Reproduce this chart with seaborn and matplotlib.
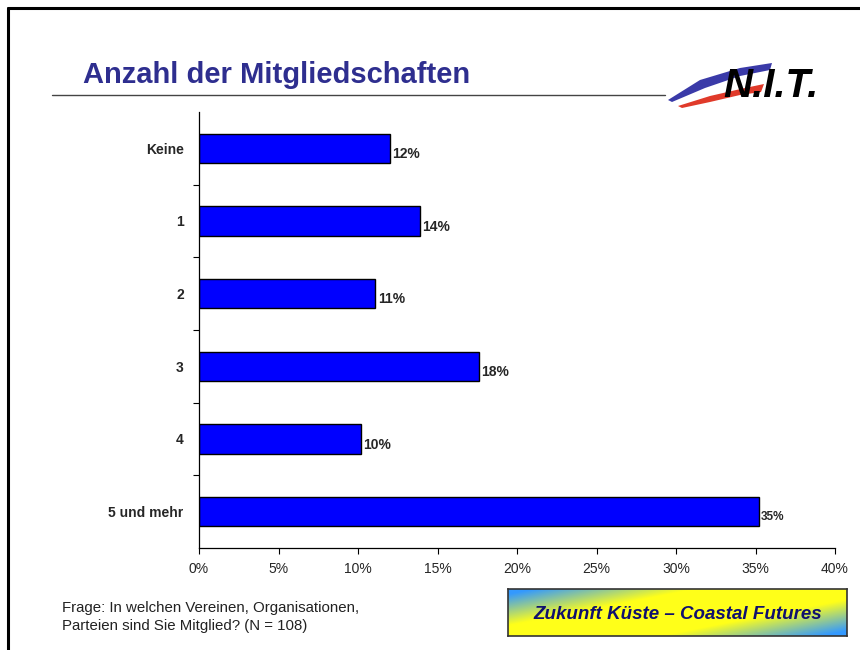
import numpy as np
import pandas as pd
import seaborn as sns
from matplotlib import pyplot as plt
from matplotlib.lines import Line2D
from matplotlib.patches import Polygon

# data (N = 108)
categories = ['Keine', '1', '2', '3', '4', '5 und mehr']
shares = [12.0, 13.9, 11.1, 17.6, 10.2, 35.2]
share_labels = ['12%', '14%', '11%', '18%', '10%', '35%']
x_ticks = [0, 5, 10, 15, 20, 25, 30, 35, 40]
x_tick_labels = [f'{t}%' for t in x_ticks]

TITLE = 'Anzahl der Mitgliedschaften'
NOTE = 'Frage: In welchen Vereinen, Organisationen,\nParteien sind Sie Mitglied? (N = 108)'
BADGE = 'Zukunft Küste – Coastal Futures'

sns.set_style('white')
plt.rcParams['font.family'] = ['Liberation Sans', 'DejaVu Sans']

df = pd.DataFrame({'category': categories, 'share': shares})

W, H = 860, 650
fig = plt.figure(figsize=(W / 100, H / 100), dpi=100)


def fig_box(x0, y0, x1, y1):
    """pixel box (top-left origin) -> figure fraction rect"""
    return [x0 / W, 1 - y1 / H, (x1 - x0) / W, (y1 - y0) / H]


ax = fig.add_axes(fig_box(199, 112, 835, 548))
sns.barplot(data=df, x='share', y='category', orient='h', color='#0000FF',
            saturation=1, edgecolor='black', linewidth=1, width=0.4, ax=ax)

ax.set_xlim(0, 40)
ax.set_ylim(5.5, -0.5)
ax.set_xlabel('')
ax.set_ylabel('')
sns.despine(ax=ax, top=True, right=True)
for side in ['left', 'bottom']:
    ax.spines[side].set_color('black')
    ax.spines[side].set_linewidth(0.9)

ax.set_xticks(x_ticks)
ax.set_xticklabels(x_tick_labels, fontsize=10)
ax.tick_params(axis='x', bottom=True, direction='out', length=4, width=0.8, color='black', pad=6)
ax.set_yticks(range(len(categories)))
ax.set_yticklabels(categories, fontsize=10, fontweight='bold')
ax.tick_params(axis='y', which='major', left=True, length=0, pad=11)
ax.set_yticks([i + 0.5 for i in range(len(categories) - 1)], minor=True)
ax.tick_params(axis='y', which='minor', left=True, direction='out', length=4, width=0.8,
               color='black')

for i, (val, lab) in enumerate(zip(shares, share_labels)):
    ax.text(val + 0.15, i + 0.08, lab, ha='left', va='center',
            fontsize=8.5 if i == len(shares) - 1 else 10, fontweight='bold')

# page frame (left and top only)
fig.add_artist(Line2D([8 / W, 8 / W], [0, 1 - 8 / H], color='black', lw=2.2))
fig.add_artist(Line2D([8 / W, 1], [1 - 8 / H, 1 - 8 / H], color='black', lw=2.2))

# title and rule
fig.text(83 / W, 1 - 75 / H, TITLE, fontsize=21, fontweight='bold', color='#2E2E8F',
         ha='left', va='center')
fig.add_artist(Line2D([52 / W, 665 / W], [1 - 95 / H, 1 - 95 / H], color='#444444', lw=1))

# logo (local pixel coords = page pixels - (660, 55))
lax = fig.add_axes(fig_box(660, 55, 840, 115))
lax.set_xlim(0, 180)
lax.set_ylim(60, 0)
lax.axis('off')
lax.add_patch(Polygon([[8, 45], [40, 25], [80, 13], [112, 8], [110, 15], [80, 21], [45, 33], [12, 47]],
                      closed=True, color='#3A3AA8', lw=0))
lax.add_patch(Polygon([[18, 51], [50, 41], [85, 33], [104, 29], [101, 37], [80, 40], [50, 47], [22, 53]],
                      closed=True, color='#E03A2A', lw=0))
lax.text(63, 31, 'N.I.T.', fontsize=29, fontweight='bold', style='italic',
         color='black', ha='left', va='center')

# footnote
fig.text(62 / W, 1 - 617 / H, NOTE, fontsize=10.8, color='#222222', ha='left', va='center',
         linespacing=1.3)

# badge with blue-yellow gradient
bax = fig.add_axes(fig_box(508, 589, 847, 636))
gx, gy = np.meshgrid(np.linspace(0, 339, 340), np.linspace(0, 47, 48))
t = (gx + 5 * gy) / (339 + 5 * 47)
mix = np.clip((0.5 - np.abs(t - 0.5) - 0.04) / 0.28, 0, 1)[..., None]
blue = np.array([0.2, 0.6, 1.0])
yellow = np.array([1.0, 1.0, 0.1])
bax.imshow(blue * (1 - mix) + yellow * mix, aspect='auto', extent=[0, 1, 1, 0])
bax.set_xlim(0, 1)
bax.set_ylim(1, 0)
bax.set_xticks([])
bax.set_yticks([])
for sp in bax.spines.values():
    sp.set_color('#333333')
    sp.set_linewidth(1.2)
bax.text(0.5, 0.55, BADGE, fontsize=13.5, fontweight='bold', style='italic',
         color='#10106E', ha='center', va='center')

fig.savefig('out.png', dpi=100)
plt.close(fig)
